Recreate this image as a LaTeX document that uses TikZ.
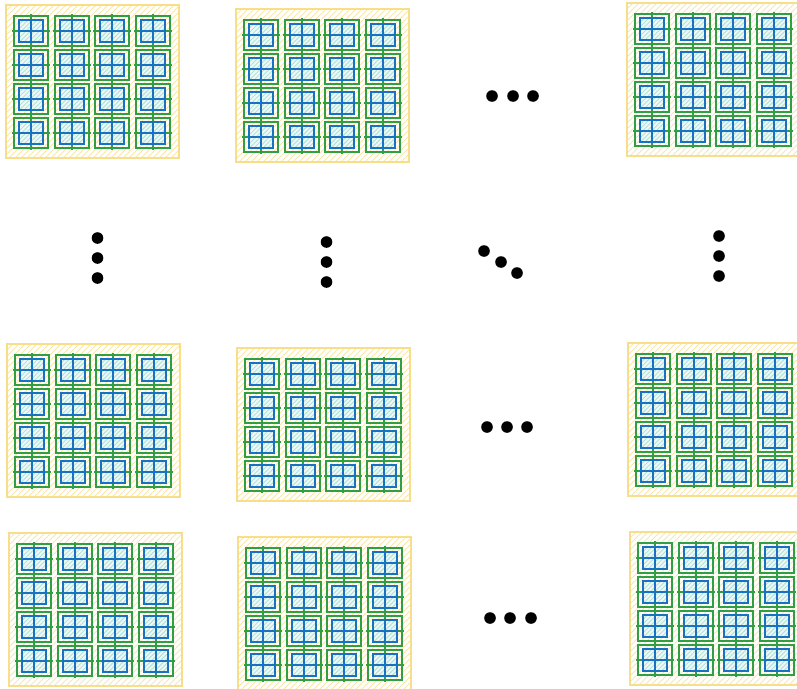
\documentclass[tikz,border=0pt]{standalone}
\definecolor{ystroke}{HTML}{F7DE8A}
\definecolor{yhatch}{HTML}{F9E6AA}
\definecolor{gstroke}{HTML}{2F9E44}
\definecolor{bstroke}{HTML}{1971C2}
\definecolor{bhatch}{HTML}{B3E2DA}
\definecolor{bfill}{HTML}{EEF9F7}
\tikzset{
  outerline/.style={draw=ystroke,line width=2pt},
  yhatchline/.style={draw=yhatch,line width=0.9pt},
  bhatchline/.style={draw=bhatch,line width=1pt},
  greenbox/.style={draw=gstroke,line width=2.1pt},
  bluebox/.style={draw=bstroke,line width=1.9pt},
  blk/.pic={
    \begin{scope}
      \clip (0,0) rectangle (173,153);
      \foreach \k in {0,6,...,330}{\draw[yhatchline] (\k-153,153) -- (\k,0);}
    \end{scope}
    \draw[outerline] (0,0) rectangle (173,153);
    \foreach \c in {0,...,3}{
      \foreach \r in {0,...,3}{
        \begin{scope}[shift={(8+40.7*\c,11+34*\r)}]
          \fill[bfill] (5,4) rectangle (29,26);
          \begin{scope}
            \clip (5,4) rectangle (29,26);
            \foreach \k in {0,4.5,...,48}{\draw[bhatchline] (5+\k-22,26) -- (5+\k,4);}
          \end{scope}
          \draw[greenbox] (0,0) rectangle (34,30);
          \draw[greenbox] (-2,15) -- (36,15) (17,-2) -- (17,32);
          \draw[bluebox] (5,4) rectangle (29,26) (5,15) -- (29,15) (17,4) -- (17,26);
        \end{scope}
      }
    }
  }
}
\begin{document}
\begin{tikzpicture}[x=1pt,y=-1pt]
  \clip (0,0) rectangle (797,688);
  \fill[white] (0,0) rectangle (797,688);
  % row 1
  \pic (a1) at (6,5) {blk};
  \pic (b1) at (236,9) {blk};
  \pic (c1) at (627,3) {blk};
  % row 2
  \pic (a2) at (7,344) {blk};
  \pic (b2) at (237,348) {blk};
  \pic (c2) at (628,343) {blk};
  % row 3
  \pic (a3) at (9,533) {blk};
  \pic (b3) at (238,537) {blk};
  \pic (c3) at (630,532) {blk};
  % dots
  \fill (492,96) circle (5.8) (513,96) circle (5.8) (533,96) circle (5.8);
  \fill (487,427) circle (5.8) (507,427) circle (5.8) (527,427) circle (5.8);
  \fill (490,618) circle (5.8) (510,618) circle (5.8) (531,618) circle (5.8);
  \fill (97.5,238) circle (5.8) (97.5,258) circle (5.8) (97.5,278) circle (5.8);
  \fill (326.5,242) circle (5.8) (326.5,262) circle (5.8) (326.5,282) circle (5.8);
  \fill (719,236) circle (5.8) (719,256) circle (5.8) (719,276) circle (5.8);
  \fill (484,251) circle (5.8) (501,262) circle (5.8) (517,273) circle (5.8);
\end{tikzpicture}
\end{document}
